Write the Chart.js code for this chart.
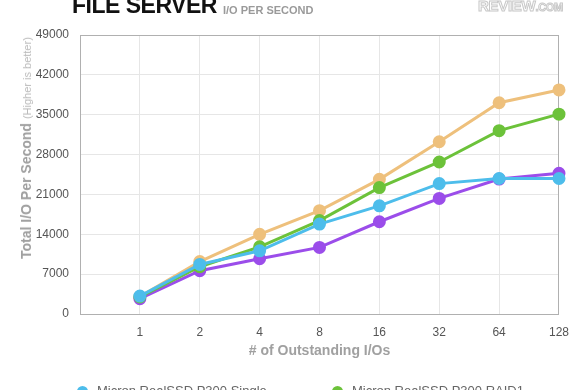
<!DOCTYPE html>
<html>
<head>
<meta charset="utf-8">
<script src="https://cdn.jsdelivr.net/npm/chart.js@4.4.1/dist/chart.umd.min.js"></script>
<style>
  html, body { margin:0; padding:0; background:#fff; overflow:hidden; width:580px; height:390px; }
  #wrap { position:relative; width:580px; height:390px; font-family:"Liberation Sans", Arial, sans-serif; }
  #c { position:absolute; left:0; top:0; }
  .title { position:absolute; left:72px; top:-8px; font-size:23px; font-weight:bold; color:#111; letter-spacing:-0.5px; white-space:nowrap; }
  .sub { position:absolute; left:223px; top:4px; font-size:11px; font-weight:bold; color:#9a9a9a; white-space:nowrap; }
  .logo { position:absolute; left:478px; top:-3px; font-size:15px; font-weight:bold; color:#fff; -webkit-text-stroke:1px #c8c8c8; letter-spacing:-0.3px; white-space:nowrap; }
  .logo small { font-size:11px; }
  .ytitle { position:absolute; left:26px; top:148px; transform:translate(-50%,-50%) rotate(-90deg); white-space:nowrap; color:#a0a0a0; }
  .ytitle b { font-size:14px; }
  .ytitle span { font-size:11px; color:#bbb; margin-left:4px; }
  .leg { position:absolute; font-size:13px; color:#666; white-space:nowrap; }
  .leg i { position:absolute; left:-20px; top:3px; width:11px; height:11px; border-radius:50%; }
</style>
</head>
<body>
<div id="wrap">
  <canvas id="c" width="580" height="390"></canvas>
  <div class="title">FILE SERVER</div>
  <div class="sub">I/O PER SECOND</div>
  <div class="logo">REVIEW<small>.COM</small></div>
  <div class="ytitle"><b>Total I/O Per Second</b><span>(Higher is better)</span></div>
  <div id="legend"></div>
</div>
<script>
const categories = ['', '1', '2', '4', '8', '16', '32', '64', '128'];
const seriesNames = ['Micron RealSSD P300 Single', 'Micron RealSSD P300 RAID1', 'Micron RealSSD P300 RAID5', 'Micron RealSSD P300 RAID0'];
const singleVals = [null, 3150, 8700, 11100, 15800, 19000, 22900, 23800, 23800];
const raid1Vals  = [null, 3000, 8300, 11800, 16400, 22200, 26700, 32200, 35100];
const raid5Vals  = [null, 2700, 7600, 9700, 11700, 16200, 20300, 23700, 24700];
const raid0Vals  = [null, 3050, 9200, 14000, 18150, 23650, 30250, 37100, 39350];
const yTicks = [0, 7000, 14000, 21000, 28000, 35000, 42000, 49000];
const colors = ['#4dbdeb', '#6cc23a', '#9b4dea', '#eec07c'];

const allVals = [singleVals, raid1Vals, raid5Vals, raid0Vals];
const datasets = allVals.map((v, i) => ({
  label: seriesNames[i],
  data: v,
  borderColor: colors[i],
  backgroundColor: colors[i],
  pointBackgroundColor: colors[i],
  pointBorderColor: colors[i],
  borderWidth: 3,
  pointRadius: 5,
  pointHoverRadius: 5,
  tension: 0
}));

// HTML legend (cropped at bottom as in reference)
const legPos = [[97, 383], [352, 383], [97, 403], [352, 403]];
const legEl = document.getElementById('legend');
seriesNames.forEach((n, i) => {
  const d = document.createElement('div');
  d.className = 'leg';
  d.style.left = legPos[i][0] + 'px';
  d.style.top = legPos[i][1] + 'px';
  d.innerHTML = '<i style="background:' + colors[i] + '"></i>' + n;
  legEl.appendChild(d);
});

const tickFont = { family: '"Liberation Sans", Arial, sans-serif', size: 12 };

new Chart(document.getElementById('c'), {
  type: 'line',
  data: { labels: categories, datasets },
  options: {
    responsive: false,
    animation: false,
    devicePixelRatio: 1,
    layout: { padding: { left: 0, right: 21, top: 35, bottom: 0 } },
    plugins: { legend: { display: false }, tooltip: { enabled: false }, title: { display: false } },
    scales: {
      x: {
        offset: false,
        afterFit: (s) => { s.height = 76; },
        grid: { color: '#e6e6e6', drawTicks: false },
        border: { display: true, color: '#b0b0b0', width: 1 },
        ticks: { color: '#555', font: tickFont, padding: 11, autoSkip: false, maxRotation: 0 },
        title: { display: true, text: '# of Outstanding I/Os', color: '#a0a0a0',
                 font: { family: '"Liberation Sans", Arial, sans-serif', size: 14, weight: 'bold' }, padding: { top: 0, bottom: 30 } }
      },
      y: {
        min: 0, max: 49000,
        afterBuildTicks: (s) => { s.ticks = yTicks.map(v => ({ value: v })); },
        afterFit: (s) => { s.width = 80; },
        grid: { color: '#e6e6e6', drawTicks: false },
        border: { display: true, color: '#b0b0b0', width: 1 },
        ticks: { color: '#555', font: tickFont, padding: 11, callback: (v) => String(v) }
      }
    }
  },
  plugins: [{
    id: 'boxBorder',
    beforeDatasetsDraw(chart) {
      const { ctx, chartArea: a } = chart;
      ctx.save();
      ctx.strokeStyle = '#b0b0b0';
      ctx.lineWidth = 1;
      ctx.strokeRect(a.left + 0.5, a.top + 0.5, a.right - a.left - 1, a.bottom - a.top);
      ctx.restore();
    }
  }]
});
</script>
</body>
</html>
